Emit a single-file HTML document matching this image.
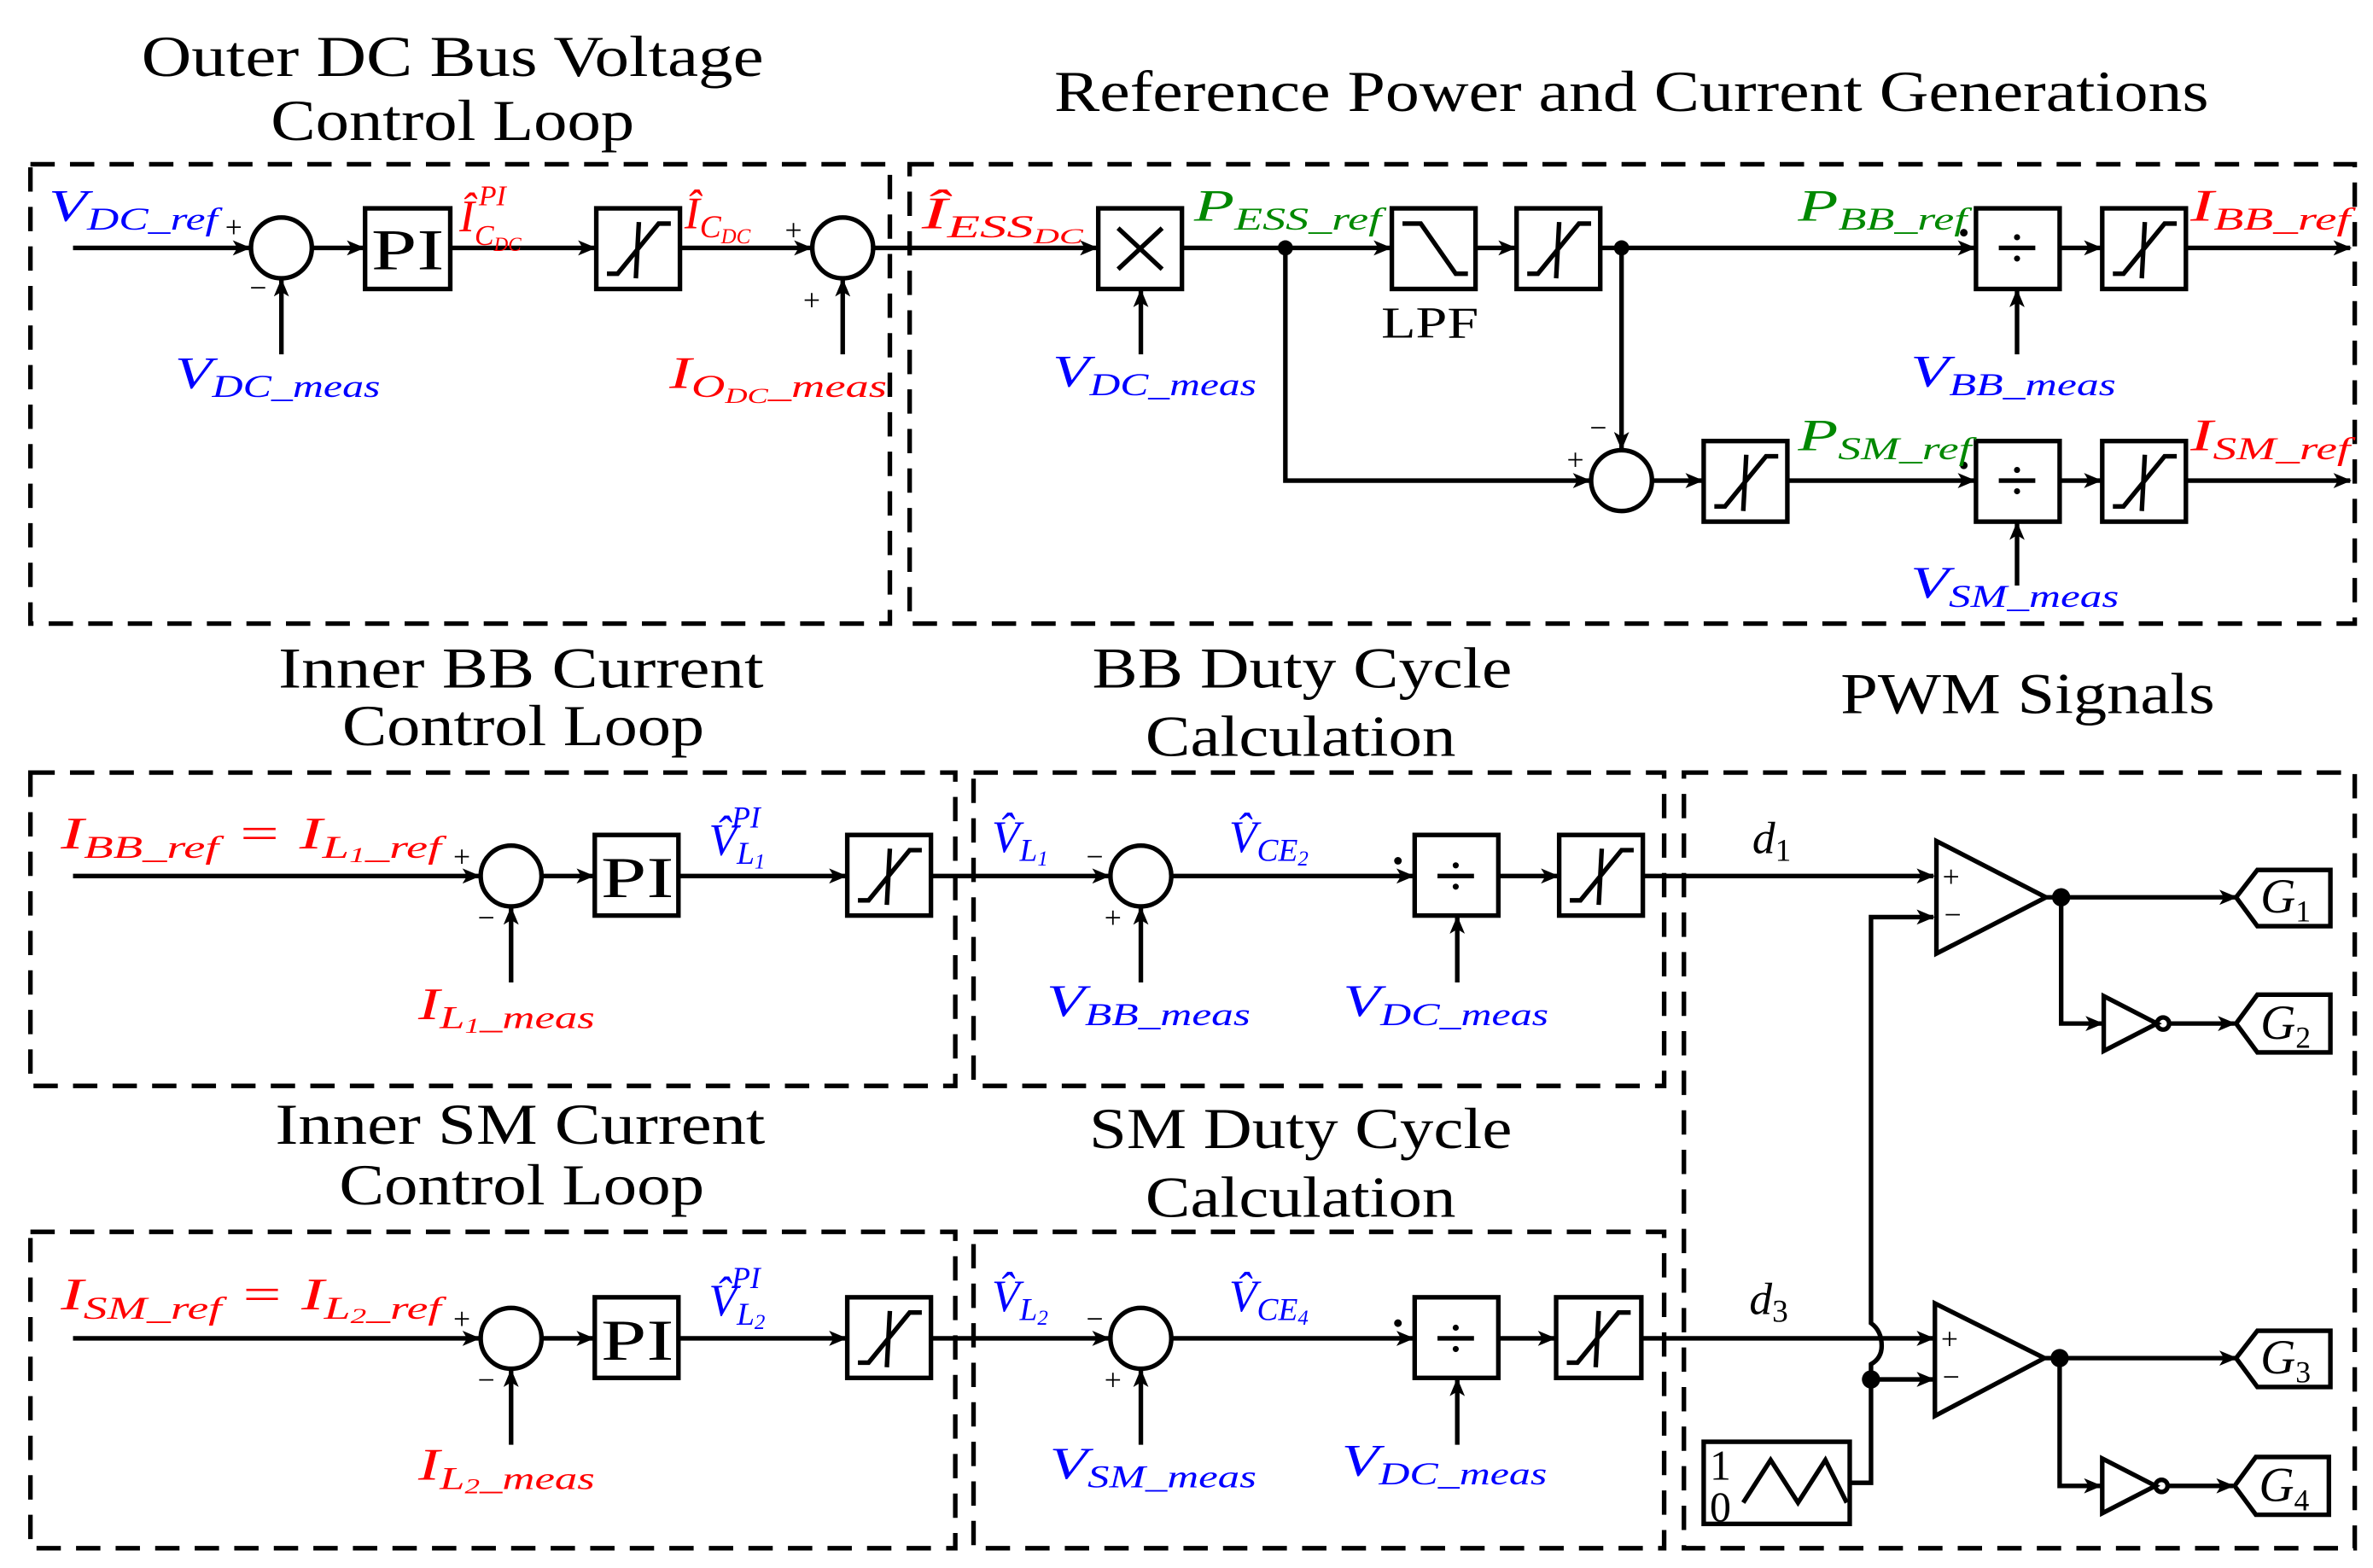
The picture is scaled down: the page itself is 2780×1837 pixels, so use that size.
<!DOCTYPE html>
<html><head><meta charset="utf-8"><style>
html,body{margin:0;padding:0;background:#fff;}
svg{display:block}
text{font-family:"Liberation Serif",serif;}
.t{font-size:38px;fill:#000}
.m{font-style:italic;font-size:30px}
.b{fill:#00f}.r{fill:#f00}.g{fill:#080}.k{fill:#000}
</style></head><body>
<svg width="2780" height="1837" viewBox="0 0 1560 1031" preserveAspectRatio="none" xmlns="http://www.w3.org/2000/svg">
<defs>
<marker id="a" markerWidth="12" markerHeight="10" refX="11" refY="5" orient="auto" markerUnits="userSpaceOnUse"><path d="M0,0 L12,5 L0,10 L3,5 z" fill="#000"/></marker>
</defs>
<rect width="1560" height="1031" fill="#fff"/>
<g class="t" lengthAdjust="spacingAndGlyphs">
<text x="93" y="50" textLength="409" lengthAdjust="spacingAndGlyphs">Outer DC Bus Voltage</text>
<text x="178" y="92" textLength="239" lengthAdjust="spacingAndGlyphs">Control Loop</text>
<text x="693" y="73" textLength="759" lengthAdjust="spacingAndGlyphs">Reference Power and Current Generations</text>
<text x="183" y="452" textLength="319" lengthAdjust="spacingAndGlyphs">Inner BB Current</text>
<text x="225" y="490" textLength="238" lengthAdjust="spacingAndGlyphs">Control Loop</text>
<text x="718" y="452" textLength="276" lengthAdjust="spacingAndGlyphs">BB Duty Cycle</text>
<text x="753" y="497" textLength="204" lengthAdjust="spacingAndGlyphs">Calculation</text>
<text x="1210" y="469" textLength="246" lengthAdjust="spacingAndGlyphs">PWM Signals</text>
<text x="181" y="752" textLength="322" lengthAdjust="spacingAndGlyphs">Inner SM Current</text>
<text x="223" y="792" textLength="240" lengthAdjust="spacingAndGlyphs">Control Loop</text>
<text x="716" y="755" textLength="278" lengthAdjust="spacingAndGlyphs">SM Duty Cycle</text>
<text x="753" y="800" textLength="204" lengthAdjust="spacingAndGlyphs">Calculation</text>
</g>
<g fill="none" stroke="#000" stroke-width="3" stroke-dasharray="16,10">
<rect x="20" y="108" width="565" height="302"/>
<rect x="598" y="108" width="950" height="302"/>
<rect x="20" y="508" width="608" height="206"/>
<rect x="640" y="508" width="454" height="206"/>
<rect x="1107" y="508" width="441" height="510"/>
<rect x="20" y="810" width="608" height="208"/>
<rect x="640" y="810" width="454" height="208"/>
</g>
<g stroke="#000" stroke-width="3" fill="none">
<line x1="48" y1="163" x2="164" y2="163" marker-end="url(#a)"/>
<circle cx="185" cy="163" r="20" fill="#fff"/>
<line x1="185" y1="233" x2="185" y2="184" marker-end="url(#a)"/>
<line x1="205" y1="163" x2="239" y2="163" marker-end="url(#a)"/>
<rect x="240" y="137" width="56" height="53" fill="#fff"/>
<line x1="296" y1="163" x2="391" y2="163" marker-end="url(#a)"/>
<rect x="392" y="137" width="55" height="53"/>
<line x1="447" y1="163" x2="533" y2="163" marker-end="url(#a)"/>
<circle cx="554" cy="163" r="20"/>
<line x1="554" y1="233" x2="554" y2="184" marker-end="url(#a)"/>
<line x1="574" y1="163" x2="721" y2="163" marker-end="url(#a)"/>
<rect x="722" y="137" width="55" height="53"/>
<line x1="777" y1="163" x2="914" y2="163" marker-end="url(#a)"/>
<line x1="1052" y1="163" x2="1298" y2="163" marker-end="url(#a)"/>
<rect x="915" y="137" width="55" height="53"/>
<line x1="970" y1="163" x2="996" y2="163" marker-end="url(#a)"/>
<rect x="997" y="137" width="55" height="53"/>
<rect x="1299" y="137" width="55" height="53"/>
<line x1="1354" y1="163" x2="1381" y2="163" marker-end="url(#a)"/>
<rect x="1382" y="137" width="55" height="53"/>
<line x1="1437" y1="163" x2="1545" y2="163" marker-end="url(#a)"/>
<line x1="750" y1="233" x2="750" y2="191" marker-end="url(#a)"/>
<line x1="1326" y1="233" x2="1326" y2="191" marker-end="url(#a)"/>
<line x1="1066" y1="163" x2="1066" y2="295" marker-end="url(#a)"/>
<polyline points="845,163 845,316 1045,316" marker-end="url(#a)"/>
<circle cx="1066" cy="316" r="20"/>
<line x1="1086" y1="316" x2="1119" y2="316" marker-end="url(#a)"/>
<rect x="1120" y="290" width="55" height="53"/>
<line x1="1175" y1="316" x2="1298" y2="316" marker-end="url(#a)"/>
<rect x="1299" y="290" width="55" height="53"/>
<line x1="1354" y1="316" x2="1381" y2="316" marker-end="url(#a)"/>
<rect x="1382" y="290" width="55" height="53"/>
<line x1="1437" y1="316" x2="1545" y2="316" marker-end="url(#a)"/>
<line x1="1326" y1="385" x2="1326" y2="344" marker-end="url(#a)"/>
<line x1="48" y1="576" x2="315" y2="576" marker-end="url(#a)"/>
<circle cx="336" cy="576" r="20"/>
<line x1="336" y1="646" x2="336" y2="597" marker-end="url(#a)"/>
<line x1="356" y1="576" x2="390" y2="576" marker-end="url(#a)"/>
<rect x="391" y="549" width="55" height="53"/>
<line x1="446" y1="576" x2="556" y2="576" marker-end="url(#a)"/>
<rect x="557" y="549" width="55" height="53"/>
<line x1="612" y1="576" x2="729" y2="576" marker-end="url(#a)"/>
<circle cx="750" cy="576" r="20"/>
<line x1="750" y1="646" x2="750" y2="597" marker-end="url(#a)"/>
<line x1="770" y1="576" x2="929" y2="576" marker-end="url(#a)"/>
<rect x="930" y="549" width="55" height="53"/>
<line x1="958" y1="646" x2="958" y2="603" marker-end="url(#a)"/>
<line x1="985" y1="576" x2="1024" y2="576" marker-end="url(#a)"/>
<rect x="1025" y="549" width="55" height="53"/>
<line x1="1080" y1="576" x2="1271" y2="576" marker-end="url(#a)"/>
<line x1="48" y1="880" x2="315" y2="880" marker-end="url(#a)"/>
<circle cx="336" cy="880" r="20"/>
<line x1="336" y1="950" x2="336" y2="901" marker-end="url(#a)"/>
<line x1="356" y1="880" x2="390" y2="880" marker-end="url(#a)"/>
<rect x="391" y="853" width="55" height="53"/>
<line x1="446" y1="880" x2="556" y2="880" marker-end="url(#a)"/>
<rect x="557" y="853" width="55" height="53"/>
<line x1="612" y1="880" x2="729" y2="880" marker-end="url(#a)"/>
<circle cx="750" cy="880" r="20"/>
<line x1="750" y1="950" x2="750" y2="901" marker-end="url(#a)"/>
<line x1="770" y1="880" x2="929" y2="880" marker-end="url(#a)"/>
<rect x="930" y="853" width="55" height="53"/>
<line x1="958" y1="950" x2="958" y2="907" marker-end="url(#a)"/>
<line x1="985" y1="880" x2="1022" y2="880" marker-end="url(#a)"/>
<rect x="1023" y="853" width="56" height="53"/>
<line x1="1079" y1="880" x2="1271" y2="880" marker-end="url(#a)"/>
<polygon points="1273,553 1345,590 1273,627" fill="#fff"/>
<polygon points="1272,857 1344,893 1272,931" fill="#fff"/>
<polyline points="1216,975 1230,975 1230,907 1271,907" marker-end="url(#a)"/>
<path d="M1230,907 L1230,897 Q1237,893 1237,885 Q1237,875 1230,870 L1230,603 L1271,603" marker-end="url(#a)"/>
<line x1="1345" y1="590" x2="1470" y2="590" marker-end="url(#a)"/>
<polyline points="1355,590 1355,673 1382,673" marker-end="url(#a)"/>
<polygon points="1383,655 1418,673 1383,691"/>
<circle cx="1422" cy="673" r="4"/>
<line x1="1426" y1="673" x2="1469" y2="673" marker-end="url(#a)"/>
<line x1="1344" y1="893" x2="1470" y2="893" marker-end="url(#a)"/>
<polyline points="1354,893 1354,977 1381,977" marker-end="url(#a)"/>
<polygon points="1382,959 1417,977 1382,995"/>
<circle cx="1421" cy="977" r="4"/>
<line x1="1425" y1="977" x2="1468" y2="977" marker-end="url(#a)"/>
<polygon points="1470,590 1484,572 1532,572 1532,609 1484,609"/>
<polygon points="1470,673 1484,654 1532,654 1532,692 1484,692"/>
<polygon points="1470,893 1484,875 1532,875 1532,912 1484,912"/>
<polygon points="1469,977 1483,958 1531,958 1531,996 1483,996"/>
<rect x="1120" y="948" width="96" height="54"/>
<polyline points="1146,988 1164,960 1182,988 1200,960 1214,988" stroke-width="3"/>
<g stroke-width="3">
<path d="M399,180 L406,180 L433,147 L441,147 M420,146 L418,183"/>
<path d="M1004,180 L1011,180 L1038,147 L1046,147 M1025,146 L1023,183"/>
<path d="M1389,180 L1396,180 L1423,147 L1431,147 M1410,146 L1408,183"/>
<path d="M1127,333 L1134,333 L1161,300 L1169,300 M1148,299 L1146,336"/>
<path d="M1389,333 L1396,333 L1423,300 L1431,300 M1410,299 L1408,336"/>
<path d="M564,592 L571,592 L598,559 L606,559 M585,558 L583,595"/>
<path d="M1032,592 L1039,592 L1066,559 L1074,559 M1053,558 L1051,595"/>
<path d="M564,896 L571,896 L598,863 L606,863 M585,862 L583,899"/>
<path d="M1030,896 L1037,896 L1064,863 L1072,863 M1051,862 L1049,899"/>
</g>
<path d="M735,150 L764,177 M764,150 L735,177"/>
<path d="M922,147 L934,147 L957,180 L965,180"/>
<line x1="1314" y1="163" x2="1338" y2="163"/><line x1="1314" y1="316" x2="1338" y2="316"/>
<line x1="945" y1="576" x2="969" y2="576"/><line x1="945" y1="880" x2="969" y2="880"/>
</g>
<g fill="#000">
<circle cx="845" cy="163" r="5"/><circle cx="1066" cy="163" r="5"/>
<circle cx="1355" cy="590" r="6"/><circle cx="1354" cy="893" r="6"/><circle cx="1230" cy="907" r="6"/>
<circle cx="1326" cy="156" r="2"/><circle cx="1326" cy="170" r="2"/>
<circle cx="1326" cy="309" r="2"/><circle cx="1326" cy="323" r="2"/>
<circle cx="957" cy="569" r="2"/><circle cx="957" cy="583" r="2"/>
<circle cx="957" cy="873" r="2"/><circle cx="957" cy="887" r="2"/>
<circle cx="1291" cy="153" r="2.5"/><circle cx="1291" cy="306" r="2.5"/>
<circle cx="919" cy="566" r="2.5"/><circle cx="919" cy="870" r="2.5"/>
</g>
<g class="k" font-size="38">
<text x="244" y="177" textLength="48" lengthAdjust="spacingAndGlyphs">PI</text>
<text x="395" y="590" textLength="48" lengthAdjust="spacingAndGlyphs">PI</text>
<text x="395" y="894" textLength="48" lengthAdjust="spacingAndGlyphs">PI</text>
<text x="908" y="222" font-size="29" textLength="64" lengthAdjust="spacingAndGlyphs">LPF</text>
<text x="1124" y="973" font-size="28">1</text>
<text x="1124" y="1000" font-size="28">0</text>
</g>
<g font-size="20" font-family="Liberation Sans,sans-serif" fill="#000">
<text x="148" y="156">+</text><text x="164" y="196">−</text>
<text x="516" y="158">+</text><text x="528" y="204">+</text>
<text x="1045" y="288">−</text><text x="1030" y="309">+</text>
<text x="298" y="570">+</text><text x="314" y="610">−</text>
<text x="714" y="570">−</text><text x="726" y="610">+</text>
<text x="298" y="874">+</text><text x="314" y="914">−</text>
<text x="714" y="874">−</text><text x="726" y="914">+</text>
<text x="1277" y="583">+</text><text x="1278" y="608">−</text>
<text x="1276" y="887">+</text><text x="1277" y="912">−</text>
</g>
<g class="m">
<text x="32" y="145" class="b" textLength="111" lengthAdjust="spacingAndGlyphs">V<tspan font-size="21" dy="6">DC_ref</tspan></text>
<text x="115" y="255" class="b" textLength="135" lengthAdjust="spacingAndGlyphs">V<tspan font-size="21" dy="6">DC_meas</tspan></text>
<text x="302" y="152" class="r">Î<tspan font-size="19" dy="9">C</tspan><tspan font-size="13" dy="4">DC</tspan><tspan font-size="19" dx="-28" dy="-30">PI</tspan></text>
<text x="450" y="150" class="r">Î<tspan font-size="21" dy="6">C</tspan><tspan font-size="14" dy="4">DC</tspan></text>
<text x="440" y="255" class="r" textLength="143" lengthAdjust="spacingAndGlyphs">I<tspan font-size="21" dy="6">O</tspan><tspan font-size="14" dy="4">DC</tspan><tspan font-size="21" dy="-4">_meas</tspan></text>
<text x="606" y="150" class="r" textLength="106" lengthAdjust="spacingAndGlyphs">Î<tspan font-size="21" dy="6">ESS</tspan><tspan font-size="14" dy="4">DC</tspan></text>
<text x="785" y="145" class="g" textLength="123" lengthAdjust="spacingAndGlyphs">P<tspan font-size="21" dy="6">ESS_ref</tspan></text>
<text x="692" y="254" class="b" textLength="134" lengthAdjust="spacingAndGlyphs">V<tspan font-size="21" dy="6">DC_meas</tspan></text>
<text x="1182" y="145" class="g" textLength="111" lengthAdjust="spacingAndGlyphs">P<tspan font-size="21" dy="6">BB_ref</tspan></text>
<text x="1440" y="145" class="r" textLength="105" lengthAdjust="spacingAndGlyphs">I<tspan font-size="21" dy="6">BB_ref</tspan></text>
<text x="1256" y="254" class="b" textLength="135" lengthAdjust="spacingAndGlyphs">V<tspan font-size="21" dy="6">BB_meas</tspan></text>
<text x="1182" y="296" class="g" textLength="114" lengthAdjust="spacingAndGlyphs">P<tspan font-size="21" dy="6">SM_ref</tspan></text>
<text x="1440" y="296" class="r" textLength="105" lengthAdjust="spacingAndGlyphs">I<tspan font-size="21" dy="6">SM_ref</tspan></text>
<text x="1256" y="393" class="b" textLength="137" lengthAdjust="spacingAndGlyphs">V<tspan font-size="21" dy="6">SM_meas</tspan></text>
<text x="40" y="558" class="r" textLength="250" lengthAdjust="spacingAndGlyphs">I<tspan font-size="21" dy="6">BB_ref</tspan><tspan dy="-6"> = I</tspan><tspan font-size="21" dy="6">L</tspan><tspan font-size="14" dy="3">1</tspan><tspan font-size="21" dy="-3">_ref</tspan></text>
<text x="275" y="670" class="r" textLength="116" lengthAdjust="spacingAndGlyphs">I<tspan font-size="21" dy="6">L</tspan><tspan font-size="14" dy="3">1</tspan><tspan font-size="21" dy="-3">_meas</tspan></text>
<text x="466" y="562" class="b">V̂<tspan font-size="21" dy="6">L</tspan><tspan font-size="14" dy="3">1</tspan><tspan font-size="20" dx="-22" dy="-27">PI</tspan></text>
<text x="652" y="560" class="b">V̂<tspan font-size="21" dy="6">L</tspan><tspan font-size="14" dy="3">1</tspan></text>
<text x="808" y="560" class="b">V̂<tspan font-size="21" dy="6">CE</tspan><tspan font-size="14" dy="3">2</tspan></text>
<text x="688" y="668" class="b" textLength="134" lengthAdjust="spacingAndGlyphs">V<tspan font-size="21" dy="6">BB_meas</tspan></text>
<text x="883" y="668" class="b" textLength="135" lengthAdjust="spacingAndGlyphs">V<tspan font-size="21" dy="6">DC_meas</tspan></text>
<text x="1152" y="561" class="k">d<tspan font-size="21" font-style="normal" dy="5">1</tspan></text>
<text x="40" y="861" class="r" textLength="250" lengthAdjust="spacingAndGlyphs">I<tspan font-size="21" dy="6">SM_ref</tspan><tspan dy="-6"> = I</tspan><tspan font-size="21" dy="6">L</tspan><tspan font-size="14" dy="3">2</tspan><tspan font-size="21" dy="-3">_ref</tspan></text>
<text x="275" y="973" class="r" textLength="116" lengthAdjust="spacingAndGlyphs">I<tspan font-size="21" dy="6">L</tspan><tspan font-size="14" dy="3">2</tspan><tspan font-size="21" dy="-3">_meas</tspan></text>
<text x="466" y="865" class="b">V̂<tspan font-size="21" dy="6">L</tspan><tspan font-size="14" dy="3">2</tspan><tspan font-size="20" dx="-22" dy="-27">PI</tspan></text>
<text x="652" y="862" class="b">V̂<tspan font-size="21" dy="6">L</tspan><tspan font-size="14" dy="3">2</tspan></text>
<text x="808" y="862" class="b">V̂<tspan font-size="21" dy="6">CE</tspan><tspan font-size="14" dy="3">4</tspan></text>
<text x="690" y="972" class="b" textLength="136" lengthAdjust="spacingAndGlyphs">V<tspan font-size="21" dy="6">SM_meas</tspan></text>
<text x="882" y="970" class="b" textLength="135" lengthAdjust="spacingAndGlyphs">V<tspan font-size="21" dy="6">DC_meas</tspan></text>
<text x="1150" y="864" class="k">d<tspan font-size="21" font-style="normal" dy="5">3</tspan></text>
<text x="1486" y="600" class="k" font-size="32">G<tspan font-size="20" font-style="normal" dy="6">1</tspan></text>
<text x="1486" y="683" class="k" font-size="32">G<tspan font-size="20" font-style="normal" dy="6">2</tspan></text>
<text x="1486" y="903" class="k" font-size="32">G<tspan font-size="20" font-style="normal" dy="6">3</tspan></text>
<text x="1485" y="987" class="k" font-size="32">G<tspan font-size="20" font-style="normal" dy="6">4</tspan></text>
</g>
</svg>
</body></html>
